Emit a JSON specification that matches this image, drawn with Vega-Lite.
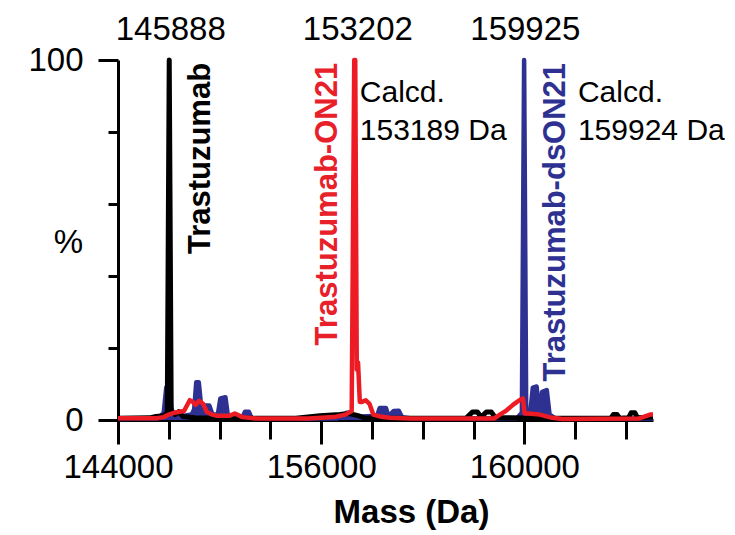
{
  "$schema": "https://vega.github.io/schema/vega-lite/v6.json",
  "autosize": "none",
  "width": 535,
  "height": 360,
  "padding": {"left": 118, "top": 60, "right": 82, "bottom": 115},
  "background": "white",
  "config": {"view": {"stroke": null}, "font": "Liberation Sans"},
  "datasets": {
    "black": [
      {"m":144000,"p":0.5},{"m":145250,"p":0.6},{"m":145500,"p":1},{"m":145800,"p":1.2},{"m":145940,"p":2},{"m":146017,"p":100},{"m":146095,"p":2.5},{"m":146250,"p":1.5},{"m":146391,"p":2.3},{"m":146550,"p":1},{"m":147000,"p":0.6},{"m":148000,"p":0.5},{"m":151000,"p":0.5},{"m":151945,"p":1.2},{"m":152733,"p":1.5},{"m":153088,"p":1.8},{"m":153450,"p":1.2},{"m":153700,"p":0.6},{"m":154300,"p":0.5},{"m":157700,"p":0.5},{"m":157950,"p":2.2},{"m":158150,"p":2.2},{"m":158300,"p":0.8},{"m":158500,"p":2.2},{"m":158700,"p":2.2},{"m":158850,"p":0.7},{"m":159500,"p":0.6},{"m":160500,"p":0.5},{"m":163400,"p":0.5},{"m":163500,"p":1.5},{"m":163650,"p":1.5},{"m":163750,"p":0.5},{"m":164100,"p":0.6},{"m":164200,"p":2},{"m":164350,"p":2},{"m":164450,"p":0.6},{"m":165062,"p":0.8}
    ],
    "blue": [
      {"m":144000,"p":0.3},{"m":145600,"p":0.5},{"m":145800,"p":2},{"m":145900,"p":9},{"m":146000,"p":10},{"m":146100,"p":3},{"m":146250,"p":1.2},{"m":146600,"p":1.2},{"m":146900,"p":1.5},{"m":147000,"p":3},{"m":147080,"p":10.5},{"m":147180,"p":10.5},{"m":147280,"p":3.5},{"m":147400,"p":4},{"m":147600,"p":4},{"m":147720,"p":1.5},{"m":147930,"p":1.5},{"m":148030,"p":6},{"m":148230,"p":6.3},{"m":148330,"p":1},{"m":148900,"p":0.8},{"m":149000,"p":2.3},{"m":149150,"p":2.3},{"m":149260,"p":0.5},{"m":152600,"p":0.4},{"m":152900,"p":1},{"m":153000,"p":2},{"m":153130,"p":2},{"m":153240,"p":0.8},{"m":153600,"p":1},{"m":154200,"p":1.2},{"m":154300,"p":3.3},{"m":154550,"p":3.3},{"m":154650,"p":1},{"m":154850,"p":2.5},{"m":155050,"p":2.6},{"m":155180,"p":0.8},{"m":155500,"p":0.5},{"m":159700,"p":0.5},{"m":159900,"p":2},{"m":159988,"p":100},{"m":160070,"p":3},{"m":160230,"p":2},{"m":160330,"p":9},{"m":160480,"p":9.3},{"m":160590,"p":2},{"m":160700,"p":7.8},{"m":160880,"p":8.3},{"m":160990,"p":1.5},{"m":161200,"p":0.5},{"m":165062,"p":0.4}
    ],
    "red": [
      {"m":144000,"p":0.5},{"m":145500,"p":0.5},{"m":145800,"p":0.8},{"m":146000,"p":1.5},{"m":146200,"p":2},{"m":146600,"p":2.5},{"m":146824,"p":5.5},{"m":146950,"p":5},{"m":147050,"p":4.2},{"m":147200,"p":5.3},{"m":147350,"p":4.5},{"m":147500,"p":2.2},{"m":147700,"p":1.5},{"m":147900,"p":1.2},{"m":148400,"p":1.2},{"m":148600,"p":1.8},{"m":148900,"p":0.8},{"m":149500,"p":0.4},{"m":151500,"p":0.4},{"m":152500,"p":0.8},{"m":152950,"p":1.5},{"m":153200,"p":2.5},{"m":153300,"p":100},{"m":153340,"p":100},{"m":153400,"p":14},{"m":153450,"p":16},{"m":153520,"p":5},{"m":153600,"p":5},{"m":153750,"p":5.5},{"m":153900,"p":4.5},{"m":154050,"p":1.5},{"m":154300,"p":1},{"m":154700,"p":0.6},{"m":155500,"p":0.4},{"m":158800,"p":0.4},{"m":159035,"p":1.5},{"m":159300,"p":2.7},{"m":159547,"p":4.2},{"m":159800,"p":5.5},{"m":159941,"p":6},{"m":160010,"p":1.8},{"m":160150,"p":1.8},{"m":160600,"p":1.5},{"m":161100,"p":0.6},{"m":161500,"p":0.3},{"m":164500,"p":0.4},{"m":164944,"p":1.5},{"m":165062,"p":1.5}
    ],
    "peaks": [
      {"m":146076,"p":105.5,"t":"145888"},{"m":153442,"p":105.5,"t":"153202"},{"m":160037,"p":105.5,"t":"159925"}
    ],
    "names": [
      {"m":147612,"p":99.2,"t":"Trastuzumab","s":"Trastuzumab"},
      {"m":152615,"p":99.2,"t":"Trastuzumab-ON21","s":"Trastuzumab-ON21"},
      {"m":161595,"p":99.2,"t":"Trastuzumab-dsON21","s":"Trastuzumab-dsON21"}
    ],
    "calcd": [
      {"m":153520,"p":88.3,"t":"Calcd."},{"m":153520,"p":77.8,"t":"153189 Da"},
      {"m":162107,"p":88.3,"t":"Calcd."},{"m":162107,"p":77.8,"t":"159924 Da"}
    ]
  },
  "layer": [
    {
      "data": {"name": "blue"},
      "mark": {"type": "area", "color": "#2E3192", "clip": true},
      "encoding": {
        "x": {"field": "m", "type": "quantitative",
          "scale": {"domain": [144000, 165062], "nice": false, "zero": false},
          "axis": {
            "title": "Mass (Da)",
            "values": [144000,145000,146000,147000,148000,149000,150000,151000,152000,153000,154000,155000,156000,157000,158000,159000,160000,161000,162000,163000,164000],
            "labelExpr": "datum.value == 144000 ? '144000' : datum.value == 152000 ? '156000' : datum.value == 160000 ? '160000' : ''",
            "grid": false,
            "domainColor": "black", "domainWidth": 3,
            "tickColor": "black", "tickWidth": 3,
            "tickSize": {"condition": {"test": "datum.value == 144000 || datum.value == 152000 || datum.value == 160000", "value": 24}, "value": 19},
            "labelFont": "Liberation Sans", "labelFontSize": 33, "labelColor": "black",
            "labelPadding": 7, "labelFlush": false, "labelOverlap": false,
            "titleFont": "Liberation Sans", "titleFontSize": 33, "titleFontWeight": "bold", "titleColor": "black",
            "titleX": 293, "titleY": 102, "titleBaseline": "alphabetic", "titleAlign": "center", "titleAnchor": null
          }
        },
        "y": {"field": "p", "type": "quantitative",
          "scale": {"domain": [0, 100], "nice": false},
          "axis": {
            "title": "%",
            "values": [0,10,20,30,40,50,60,70,80,90,100],
            "labelExpr": "datum.value == 0 || datum.value == 100 ? datum.label : ''",
            "grid": false,
            "domainColor": "black", "domainWidth": 3,
            "tickColor": "black", "tickWidth": 3,
            "tickSize": {"condition": {"test": "datum.value % 50 == 0", "value": 20}, "value": 10},
            "labelFont": "Liberation Sans", "labelFontSize": 33, "labelColor": "black",
            "labelPadding": 15, "labelFlush": false, "labelOverlap": false,
            "titleFont": "Liberation Sans", "titleFontSize": 33, "titleFontWeight": "normal", "titleColor": "black",
            "titleAngle": 0, "titleX": -50, "titleY": 182, "titleAlign": "center", "titleBaseline": "middle", "titleAnchor": null
          }
        }
      }
    },
    {
      "data": {"name": "blue"},
      "mark": {"type": "line", "color": "#2E3192", "strokeWidth": 4.5, "strokeJoin": "round"},
      "encoding": {"x": {"field": "m", "type": "quantitative"}, "y": {"field": "p", "type": "quantitative"}}
    },
    {
      "data": {"name": "black"},
      "mark": {"type": "line", "color": "#000000", "strokeWidth": 5, "strokeJoin": "round"},
      "encoding": {"x": {"field": "m", "type": "quantitative"}, "y": {"field": "p", "type": "quantitative"}}
    },
    {
      "data": {"name": "red"},
      "mark": {"type": "line", "color": "#ED1C24", "strokeWidth": 4.5, "strokeJoin": "round"},
      "encoding": {"x": {"field": "m", "type": "quantitative"}, "y": {"field": "p", "type": "quantitative"}}
    },
    {
      "data": {"name": "peaks"},
      "mark": {"type": "text", "font": "Liberation Sans", "fontSize": 33, "align": "center", "baseline": "alphabetic", "color": "black", "clip": false},
      "encoding": {"x": {"field": "m", "type": "quantitative"}, "y": {"field": "p", "type": "quantitative"}, "text": {"field": "t"}}
    },
    {
      "data": {"name": "names"},
      "mark": {"type": "text", "font": "Liberation Sans", "fontSize": 31, "fontWeight": "bold", "angle": 270, "align": "right", "baseline": "alphabetic"},
      "encoding": {
        "x": {"field": "m", "type": "quantitative"}, "y": {"field": "p", "type": "quantitative"}, "text": {"field": "t"},
        "color": {"field": "s", "type": "nominal", "legend": null,
          "scale": {"domain": ["Trastuzumab", "Trastuzumab-ON21", "Trastuzumab-dsON21"], "range": ["#000000", "#E8202A", "#2E3192"]}}
      }
    },
    {
      "data": {"name": "calcd"},
      "mark": {"type": "text", "font": "Liberation Sans", "fontSize": 30, "align": "left", "baseline": "alphabetic", "color": "black"},
      "encoding": {"x": {"field": "m", "type": "quantitative"}, "y": {"field": "p", "type": "quantitative"}, "text": {"field": "t"}}
    }
  ]
}
